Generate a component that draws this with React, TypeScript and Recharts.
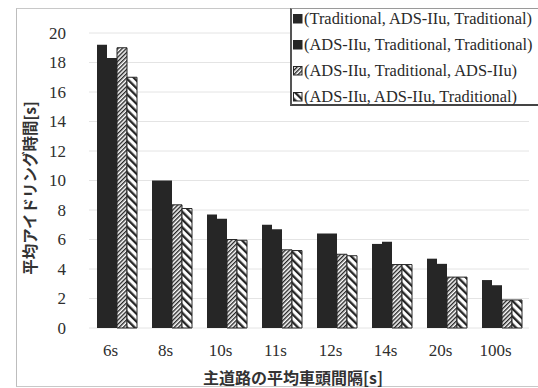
import { BarChart, Bar, XAxis, YAxis, CartesianGrid } from 'recharts';

const headways = ['6s', '8s', '10s', '11s', '12s', '14s', '20s', '100s'];

const seriesNames = [
  '(Traditional, ADS-IIu, Traditional)',
  '(ADS-IIu, Traditional, Traditional)',
  '(ADS-IIu, Traditional, ADS-IIu)',
  '(ADS-IIu, ADS-IIu, Traditional)',
];

// average idling time [s] per headway
const tradAdsTrad = [19.2, 10.0, 7.7, 7.0, 6.4, 5.7, 4.7, 3.25];
const adsTradTrad = [18.3, 10.0, 7.4, 6.7, 6.4, 5.85, 4.35, 2.9];
const adsTradAds = [19.0, 8.35, 6.0, 5.3, 5.0, 4.3, 3.45, 1.9];
const adsAdsTrad = [17.0, 8.1, 5.95, 5.25, 4.9, 4.3, 3.45, 1.9];

const yTicks = [0, 2, 4, 6, 8, 10, 12, 14, 16, 18, 20];

const data = headways.map((h, i) => ({
  headway: h,
  s1: tradAdsTrad[i],
  s2: adsTradTrad[i],
  s3: adsTradAds[i],
  s4: adsAdsTrad[i],
}));

const DARK = '#262626';
const SERIF = 'Liberation Serif, Times New Roman, serif';
const GOTHIC = 'Noto Sans CJK JP, Noto Sans, sans-serif';

const tickStyle = { fontFamily: SERIF, fontSize: 17, fill: '#2e2e2e' };

function Patterns({ prefix }: { prefix: string }) {
  return (
    <defs>
      <pattern id={`${prefix}-fine`} width="3" height="3" patternUnits="userSpaceOnUse" patternTransform="rotate(45)">
        <rect width="3" height="3" fill="#fff" />
        <rect width="1.4" height="3" fill={DARK} />
      </pattern>
      <pattern id={`${prefix}-wide`} width="5.5" height="5.5" patternUnits="userSpaceOnUse" patternTransform="rotate(-45)">
        <rect width="5.5" height="5.5" fill="#fff" />
        <rect width="2.3" height="5.5" fill={DARK} />
      </pattern>
    </defs>
  );
}

function XTick(props: any) {
  const { x, y, payload } = props;
  return (
    <g transform={`translate(${x - 6},${y})`}>
      <text x={0} y={12} textAnchor="middle" style={tickStyle}>
        {payload.value}
      </text>
    </g>
  );
}

function YTick(props: any) {
  const { x, y, payload } = props;
  return (
    <g transform={`translate(${x},${y})`}>
      <text x={0} y={5.5} textAnchor="end" style={tickStyle}>
        {payload.value}
      </text>
    </g>
  );
}

function LegendBox() {
  const fills = [DARK, DARK, 'url(#lg-fine)', 'url(#lg-wide)'];
  return (
    <div
      style={{
        position: 'absolute',
        left: 290,
        top: 8,
        width: 260,
        height: 95,
        background: '#fff',
        borderTop: '1px solid #9a9a9a',
        borderLeft: '2px solid #555',
        borderBottom: '2px solid #444',
        fontFamily: SERIF,
        fontSize: 16.4,
        color: '#2a2a2a',
        whiteSpace: 'nowrap',
      }}
    >
      {seriesNames.map((name, i) => (
        <div key={name} style={{ position: 'absolute', left: 1, top: -1 + i * 26, height: 22, lineHeight: '22px', display: 'flex', alignItems: 'center' }}>
          <svg width={10} height={10} style={{ marginRight: 1 }}>
            {i === 2 && <Patterns prefix="lg" />}
            <rect x={0.5} y={0.5} width={8.5} height={8.5} fill={fills[i]} stroke={DARK} strokeWidth={1} />
          </svg>
          <span>{name}</span>
        </div>
      ))}
    </div>
  );
}

export default function App() {
  return (
    <div style={{ position: 'absolute', left: 0, top: 0, width: 538, height: 388, background: '#fff', overflow: 'hidden', fontFamily: SERIF }}>
      <div
        style={{
          position: 'absolute',
          left: 16,
          top: 8,
          width: 530,
          height: 377,
          borderLeft: '1px solid #bdbdbd',
          borderTop: '1px solid #c8c8c8',
          borderBottom: '1px solid #c8c8c8',
        }}
      />
      <BarChart
        width={538}
        height={388}
        data={data}
        margin={{ top: 33, right: 9, bottom: 0, left: 0 }}
        barSize={10}
        barGap={0}
        style={{ position: 'absolute', left: 0, top: 0, fontFamily: SERIF }}
      >
        <Patterns prefix="bar" />
        <CartesianGrid vertical={false} stroke="#e4e4e4" />
        <XAxis
          dataKey="headway"
          height={60}
          axisLine={false}
          tickLine={false}
          tickSize={0}
          tickMargin={16}
          interval={0}
          tick={<XTick />}
        />
        <YAxis
          width={89}
          domain={[0, 20]}
          ticks={yTicks}
          axisLine={false}
          tickLine={false}
          tickSize={0}
          tickMargin={23}
          tick={<YTick />}
        />
        <Bar dataKey="s1" name={seriesNames[0]} fill={DARK} isAnimationActive={false} />
        <Bar dataKey="s2" name={seriesNames[1]} fill={DARK} isAnimationActive={false} />
        <Bar dataKey="s3" name={seriesNames[2]} fill="url(#bar-fine)" stroke={DARK} strokeWidth={1} isAnimationActive={false} />
        <Bar dataKey="s4" name={seriesNames[3]} fill="url(#bar-wide)" stroke={DARK} strokeWidth={1} isAnimationActive={false} />
      </BarChart>
      {/* axis titles */}
      <div
        style={{
          position: 'absolute',
          left: 29,
          top: 188,
          transform: 'translate(-50%, -50%) rotate(-90deg)',
          fontFamily: GOTHIC,
          fontSize: 15.5,
          fontWeight: 700,
          color: '#333',
          whiteSpace: 'nowrap',
        }}
      >
        平均アイドリング時間[s]
      </div>
      <div
        style={{
          position: 'absolute',
          left: 293,
          top: 377,
          transform: 'translate(-50%, -50%)',
          fontFamily: GOTHIC,
          fontSize: 16,
          fontWeight: 700,
          color: '#333',
          whiteSpace: 'nowrap',
        }}
      >
        主道路の平均車頭間隔[s]
      </div>
      <LegendBox />
    </div>
  );
}
